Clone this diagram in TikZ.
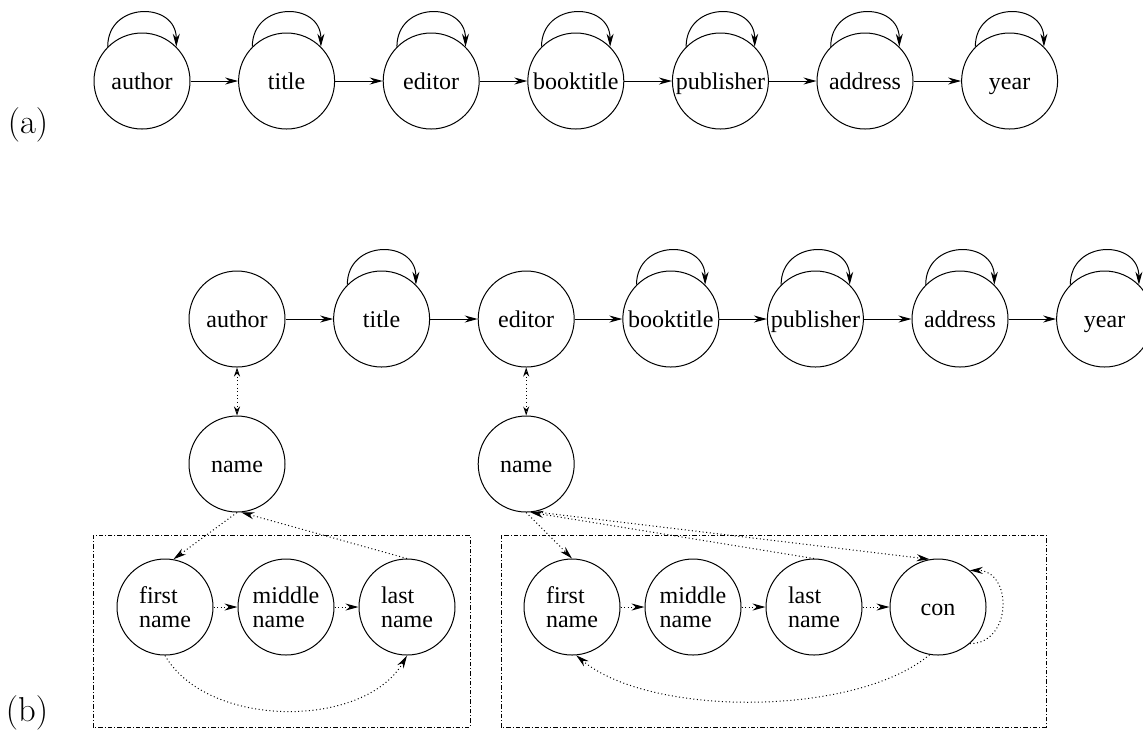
\documentclass[tikz,border=0pt]{standalone}
\usepackage{fontspec}
\newfontfamily\timesfont{Liberation Serif}
\usepackage{tikz}
\usetikzlibrary{arrows.meta, positioning}

\tikzset{
    fieldbase/.style={draw=black, circle, minimum size=48pt, inner sep=0pt, align=left, font=\timesfont\fontsize{12}{12}\selectfont},
    field/.style={fieldbase, text height=8pt, text depth=0pt},
    fieldtwo/.style={fieldbase},
    trans/.style={-{Stealth[length=6.5pt, width=3.5pt]}},
    selfloop/.style={trans, out=90, in=90, looseness=1.7},
    subarrow/.style={-{Stealth[length=6.5pt, width=3.5pt]}, dash pattern=on 0.5pt off 1.3pt},
    namelink/.style={{Stealth[open, length=4.5pt, width=3pt]}-{Stealth[open, length=4.5pt, width=3pt]}, dash pattern=on 0.5pt off 1.3pt},
    fieldbox/.style={dash pattern=on 2.2pt off 1pt on 0.5pt off 1pt},
    panel/.style={font=\LARGE}
}

\begin{document}
\begin{tikzpicture}[x=0.5pt, y=0.5pt, line width=0.5pt]
    \useasboundingbox (0,0) rectangle (1143,-736);

    % --- (a) Flat sequence of fields ---
    \node[panel] (labA) at (28,-125) {(a)};
    \node[field] (authorA) at (142,-81) {author};
    \node[field, right=23.8pt of authorA] (titleA) {title};
    \node[field, right=23.8pt of titleA] (editorA) {editor};
    \node[field, right=23.8pt of editorA] (booktitleA) {booktitle};
    \node[field, right=23.8pt of booktitleA] (publisherA) {publisher};
    \node[field, right=23.8pt of publisherA] (addressA) {address};
    \node[field, right=23.8pt of addressA] (yearA) {year};

    % Transitions between fields
    \draw[trans] (authorA) -- (titleA);
    \draw[trans] (titleA) -- (editorA);
    \draw[trans] (editorA) -- (booktitleA);
    \draw[trans] (booktitleA) -- (publisherA);
    \draw[trans] (publisherA) -- (addressA);
    \draw[trans] (addressA) -- (yearA);

    % Self loops
    \draw[selfloop] (authorA.135) to (authorA.45);
    \draw[selfloop] (titleA.135) to (titleA.45);
    \draw[selfloop] (editorA.135) to (editorA.45);
    \draw[selfloop] (booktitleA.135) to (booktitleA.45);
    \draw[selfloop] (publisherA.135) to (publisherA.45);
    \draw[selfloop] (addressA.135) to (addressA.45);
    \draw[selfloop] (yearA.135) to (yearA.45);

    % --- (b) Fields with name sub-models ---
    \node[panel] (labB) at (27,-713) {(b)};
    \node[field] (authorB) at (237,-319) {author};
    \node[field, right=23.8pt of authorB] (titleB) {title};
    \node[field, right=23.8pt of titleB] (editorB) {editor};
    \node[field, right=23.8pt of editorB] (booktitleB) {booktitle};
    \node[field, right=23.8pt of booktitleB] (publisherB) {publisher};
    \node[field, right=23.8pt of publisherB] (addressB) {address};
    \node[field, right=23.8pt of addressB] (yearB) {year};

    \draw[trans] (authorB) -- (titleB);
    \draw[trans] (titleB) -- (editorB);
    \draw[trans] (editorB) -- (booktitleB);
    \draw[trans] (booktitleB) -- (publisherB);
    \draw[trans] (publisherB) -- (addressB);
    \draw[trans] (addressB) -- (yearB);

    \draw[selfloop] (titleB.135) to (titleB.45);
    \draw[selfloop] (booktitleB.135) to (booktitleB.45);
    \draw[selfloop] (publisherB.135) to (publisherB.45);
    \draw[selfloop] (addressB.135) to (addressB.45);
    \draw[selfloop] (yearB.135) to (yearB.45);

    % Name nodes under author and editor
    \node[field, below=24pt of authorB] (nameL) {name};
    \node[field, below=24pt of editorB] (nameR) {name};
    \draw[namelink] (authorB.south) -- (nameL.north);
    \draw[namelink] (editorB.south) -- (nameR.north);

    % --- Left sub-model (author) ---
    \draw[fieldbox] (93,-535) rectangle (470,-727);
    \node[fieldtwo] (firstL) at (165,-607) {first\\name};
    \node[fieldtwo, right=12pt of firstL] (middleL) {middle\\name};
    \node[fieldtwo, right=12pt of middleL] (lastL) {last\\name};

    \draw[subarrow] (nameL.south) -- (firstL.80);
    \draw[subarrow] (lastL.north) -- (nameL.-85);
    \draw[subarrow] (firstL) -- (middleL);
    \draw[subarrow] (middleL) -- (lastL);
    \draw[subarrow] (firstL.south) to[out=-60, in=-120, looseness=0.9] (lastL.south);

    % --- Right sub-model (editor) ---
    \draw[fieldbox] (501,-535) rectangle (1046,-727);
    \node[fieldtwo] (firstR) at (572,-607) {first\\name};
    \node[fieldtwo, right=12pt of firstR] (middleR) {middle\\name};
    \node[fieldtwo, right=12pt of middleR] (lastR) {last\\name};
    \node[field, right=13.5pt of lastR] (conR) {con};

    \draw[subarrow] (nameR.south) -- (firstR.north);
    \draw[subarrow] (lastR.north) -- (nameR.-85);
    \draw[subarrow] (nameR.-80) -- (conR.100);
    \draw[subarrow] (firstR) -- (middleR);
    \draw[subarrow] (middleR) -- (lastR);
    \draw[subarrow] (lastR) -- (conR);
    \draw[subarrow] (conR.-49) to[out=0, in=0, looseness=1.5] (conR.49);
    \draw[subarrow] (conR.-100) to[out=-140, in=-40, looseness=0.7] (firstR.-85);
\end{tikzpicture}
\end{document}
